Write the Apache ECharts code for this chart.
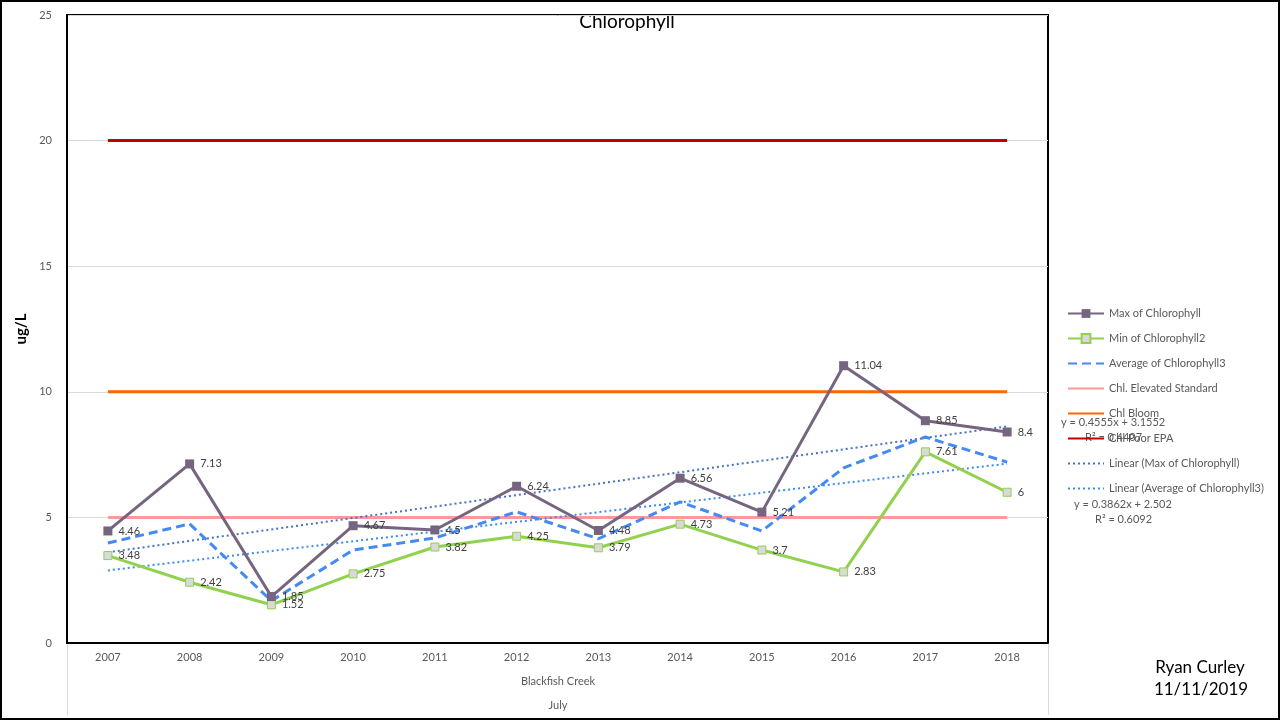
<!DOCTYPE html>
<html>
<head>
<meta charset="utf-8">
<style>html,body{margin:0;padding:0;background:#fff}#c{width:1280px;height:720px}</style>
<script src="https://cdn.jsdelivr.net/npm/echarts@6/dist/echarts.min.js"></script>
</head>
<body>
<div id="c"></div>
<script>
const years = ['2007','2008','2009','2010','2011','2012','2013','2014','2015','2016','2017','2018'];
const maxChl = [4.46, 7.13, 1.85, 4.67, 4.5, 6.24, 4.48, 6.56, 5.21, 11.04, 8.85, 8.4];
const minChl = [3.48, 2.42, 1.52, 2.75, 3.82, 4.25, 3.79, 4.73, 3.7, 2.83, 7.61, 6];
const avgChl = [3.98, 4.74, 1.68, 3.70, 4.18, 5.22, 4.15, 5.62, 4.46, 6.97, 8.2, 7.2];
const elevated = [5,5,5,5,5,5,5,5,5,5,5,5];
const bloom = [10,10,10,10,10,10,10,10,10,10,10,10];
const poorEPA = [20,20,20,20,20,20,20,20,20,20,20,20];
// trendline endpoints (first and last category), from the displayed equations
const maxTrend = [3.61, null, null, null, null, null, null, null, null, null, null, 8.62];
const avgTrend = [2.89, null, null, null, null, null, null, null, null, null, null, 7.14];
const yTicks = [0, 5, 10, 15, 20, 25];

const FONT = 'Lato, "Liberation Sans", sans-serif';
const chart = echarts.init(document.getElementById('c'));
const lbl = {show: true, position: 'right', distance: 6, color: '#404040', fontSize: 11, fontFamily: FONT};
const noMark = {opacity: 0};
chart.setOption({
  animation: false,
  backgroundColor: '#fff',
  textStyle: {fontFamily: FONT},
  grid: {left: 67, right: 232, top: 15, bottom: 77, show: true, borderColor: '#000', borderWidth: 2},
  legend: {
    orient: 'vertical', left: 1067, top: 308, padding: 0,
    itemWidth: 36, itemHeight: 11, itemGap: 14,
    textStyle: {color: '#595959', fontSize: 11, fontFamily: FONT},
    data: [
      {name: 'Max of Chlorophyll'},
      {name: 'Min of Chlorophyll2'},
      {name: 'Average of Chlorophyll3', itemStyle: noMark},
      {name: 'Chl. Elevated Standard', itemStyle: noMark},
      {name: 'Chl Bloom', itemStyle: noMark},
      {name: 'Chl Poor EPA', itemStyle: noMark},
      {name: 'Linear (Max of Chlorophyll)', itemStyle: noMark},
      {name: 'Linear (Average of Chlorophyll3)', itemStyle: noMark}
    ]
  },
  xAxis: {
    type: 'category', data: years, boundaryGap: true,
    axisLine: {lineStyle: {color: '#000', width: 2}},
    axisTick: {show: false},
    axisLabel: {color: '#595959', fontSize: 11, margin: 9, fontFamily: FONT}
  },
  yAxis: {
    type: 'value', min: yTicks[0], max: yTicks[yTicks.length - 1], interval: 5,
    name: 'ug/L', nameLocation: 'middle', nameGap: 26, nameRotate: 90,
    nameTextStyle: {color: '#000', fontSize: 15, fontWeight: 'bold', fontFamily: FONT},
    axisLine: {show: true, lineStyle: {color: '#000', width: 2}},
    axisTick: {show: false},
    axisLabel: {color: '#595959', fontSize: 11, margin: 15, fontFamily: FONT},
    splitLine: {lineStyle: {color: '#D9D9D9', width: 1}}
  },
  series: [
    {name: 'Chl. Elevated Standard', type: 'line', data: elevated, showSymbol: false, symbol: 'none', lineStyle: {color: '#FF9999', width: 3}, itemStyle: {color: '#FF9999'}, z: 2},
    {name: 'Chl Bloom', type: 'line', data: bloom, showSymbol: false, symbol: 'none', lineStyle: {color: '#FF6600', width: 3}, itemStyle: {color: '#FF6600'}, z: 2},
    {name: 'Chl Poor EPA', type: 'line', data: poorEPA, showSymbol: false, symbol: 'none', lineStyle: {color: '#C00000', width: 3}, itemStyle: {color: '#C00000'}, z: 2},
    {name: 'Linear (Max of Chlorophyll)', type: 'line', data: maxTrend, connectNulls: true, symbol: 'none', lineStyle: {color: '#4472C4', width: 2, type: [2, 3]}, itemStyle: {color: '#4472C4'}, z: 3},
    {name: 'Linear (Average of Chlorophyll3)', type: 'line', data: avgTrend, connectNulls: true, symbol: 'none', lineStyle: {color: '#3C8CF0', width: 2, type: [2, 3]}, itemStyle: {color: '#3C8CF0'}, z: 3},
    {name: 'Average of Chlorophyll3', type: 'line', data: avgChl, symbol: 'none', lineStyle: {color: '#448AF0', width: 3, type: [9, 5]}, itemStyle: {color: '#448AF0'}, z: 4},
    {name: 'Min of Chlorophyll2', type: 'line', data: minChl, symbol: 'rect', symbolSize: 8, lineStyle: {color: '#92D050', width: 3}, itemStyle: {color: '#D9D9D9', borderColor: '#92D050', borderWidth: 1}, label: lbl, z: 5},
    {name: 'Max of Chlorophyll', type: 'line', data: maxChl, symbol: 'rect', symbolSize: 9, lineStyle: {color: '#76657F', width: 3}, itemStyle: {color: '#76657F'}, label: lbl, z: 6}
  ],
  graphic: [
    {type: 'rect', shape: {x: 1, y: 1, width: 1278, height: 718}, style: {fill: null, stroke: '#000', lineWidth: 2}, silent: true},
    {type: 'line', shape: {x1: 67.5, y1: 643, x2: 67.5, y2: 715}, style: {stroke: '#D9D9D9', lineWidth: 1}},
    {type: 'line', shape: {x1: 1048.5, y1: 643, x2: 1048.5, y2: 715}, style: {stroke: '#D9D9D9', lineWidth: 1}},
    {type: 'text', x: 627, y: 22, style: {text: 'Chlorophyll', fill: '#000', font: '19px ' + FONT, textAlign: 'center', textVerticalAlign: 'middle'}},
    {type: 'text', x: 558, y: 681, style: {text: 'Blackfish Creek', fill: '#595959', font: '11px ' + FONT, textAlign: 'center', textVerticalAlign: 'middle'}},
    {type: 'text', x: 558, y: 705, style: {text: 'July', fill: '#595959', font: '11px ' + FONT, textAlign: 'center', textVerticalAlign: 'middle'}},
    {type: 'text', x: 1061, y: 422, style: {text: 'y = 0.4555x + 3.1552', fill: '#595959', font: '11px ' + FONT, textAlign: 'left', textVerticalAlign: 'middle'}},
    {type: 'text', x: 1085, y: 437, style: {text: 'R² = 0.4407', fill: '#595959', font: '11px ' + FONT, textAlign: 'left', textVerticalAlign: 'middle'}},
    {type: 'text', x: 1074, y: 504, style: {text: 'y = 0.3862x + 2.502', fill: '#595959', font: '11px ' + FONT, textAlign: 'left', textVerticalAlign: 'middle'}},
    {type: 'text', x: 1095, y: 519, style: {text: 'R² = 0.6092', fill: '#595959', font: '11px ' + FONT, textAlign: 'left', textVerticalAlign: 'middle'}},
    {type: 'text', x: 1200, y: 668, style: {text: 'Ryan Curley', fill: '#000', font: '17px ' + FONT, textAlign: 'center', textVerticalAlign: 'middle'}},
    {type: 'text', x: 1201, y: 690, style: {text: '11/11/2019', fill: '#000', font: '17px ' + FONT, textAlign: 'center', textVerticalAlign: 'middle'}}
  ]
});
</script>
</body>
</html>
